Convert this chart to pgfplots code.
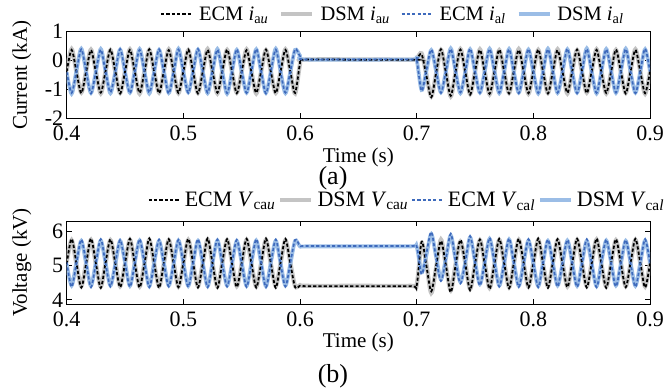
\documentclass[border=0pt]{standalone}
\usepackage{fontspec}
\setmainfont{Liberation Serif}
\usepackage{pgfplots}
\usepackage{pgfplotstable}
\pgfplotsset{compat=1.18}

\definecolor{dsmgray}{RGB}{196,196,196}
\definecolor{dsmblue}{RGB}{155,189,230}
\definecolor{ecmblue}{RGB}{62,106,188}

% arm currents (kA): ECM / DSM, upper (u) and lower (l) arm
\pgfplotstableread{
t eu du el dl
0.4000 -0.38 -0.35 -0.39 -0.41
0.4042 0.37 0.40 -1.12 -1.15
0.4083 -0.37 -0.39 -0.38 -0.36
0.4125 -1.13 -1.11 0.39 0.41
0.4167 -0.38 -0.36 -0.37 -0.40
0.4208 0.36 0.38 -1.14 -1.12
0.4250 -0.39 -0.37 -0.38 -0.39
0.4292 -1.11 -1.14 0.38 0.40
0.4333 -0.37 -0.38 -0.39 -0.37
0.4375 0.38 0.36 -1.10 -1.13
0.4417 -0.38 -0.40 -0.37 -0.38
0.4458 -1.14 -1.12 0.40 0.38
0.4500 -0.39 -0.37 -0.38 -0.40
0.4542 0.37 0.39 -1.13 -1.11
0.4583 -0.37 -0.38 -0.39 -0.37
0.4625 -1.12 -1.15 0.37 0.40
0.4667 -0.38 -0.36 -0.38 -0.39
0.4708 0.39 0.37 -1.11 -1.14
0.4750 -0.38 -0.39 -0.37 -0.38
0.4792 -1.13 -1.11 0.39 0.37
0.4833 -0.37 -0.38 -0.39 -0.37
0.4875 0.36 0.39 -1.14 -1.12
0.4917 -0.39 -0.37 -0.38 -0.40
0.4958 -1.12 -1.13 0.38 0.41
0.5000 -0.38 -0.37 -0.37 -0.38
0.5042 0.38 0.36 -1.12 -1.10
0.5083 -0.37 -0.39 -0.39 -0.37
0.5125 -1.14 -1.12 0.40 0.38
0.5167 -0.38 -0.37 -0.38 -0.39
0.5208 0.37 0.40 -1.11 -1.13
0.5250 -0.38 -0.38 -0.37 -0.38
0.5292 -1.11 -1.14 0.38 0.40
0.5333 -0.39 -0.37 -0.38 -0.37
0.5375 0.38 0.37 -1.13 -1.15
0.5417 -0.37 -0.39 -0.39 -0.38
0.5458 -1.13 -1.11 0.39 0.37
0.5500 -0.38 -0.38 -0.37 -0.39
0.5542 0.36 0.39 -1.12 -1.11
0.5583 -0.38 -0.37 -0.38 -0.37
0.5625 -1.12 -1.14 0.40 0.39
0.5667 -0.37 -0.38 -0.38 -0.40
0.5708 0.38 0.36 -1.14 -1.12
0.5750 -0.39 -0.38 -0.37 -0.38
0.5792 -1.13 -1.12 0.38 0.41
0.5833 -0.38 -0.39 -0.39 -0.37
0.5875 0.37 0.39 -1.11 -1.13
0.5917 -0.38 -0.37 -0.38 -0.39
0.5958 -1.12 -1.14 0.39 0.37
0.6000 -0.10 -0.12 0.15 0.17
0.6030 0.03 0.03 0.04 0.04
0.6500 0.03 0.04 0.04 0.03
0.6970 0.03 0.03 0.04 0.04
0.7000 0.05 0.06 0.02 0.03
0.7042 0.22 0.25 -1.05 -1.02
0.7083 -0.52 -0.48 -0.33 -0.36
0.7125 -1.27 -1.24 0.38 0.36
0.7167 -0.42 -0.44 -0.36 -0.38
0.7208 0.39 0.37 -1.12 -1.10
0.7250 -0.40 -0.38 -0.37 -0.39
0.7292 -1.22 -1.24 0.40 0.42
0.7333 -0.39 -0.41 -0.38 -0.37
0.7375 0.38 0.40 -1.10 -1.13
0.7417 -0.40 -0.38 -0.37 -0.38
0.7458 -1.18 -1.16 0.41 0.39
0.7500 -0.38 -0.39 -0.38 -0.39
0.7542 0.37 0.39 -1.12 -1.11
0.7583 -0.39 -0.37 -0.37 -0.38
0.7625 -1.15 -1.17 0.40 0.41
0.7667 -0.38 -0.38 -0.39 -0.37
0.7708 0.38 0.36 -1.11 -1.13
0.7750 -0.38 -0.39 -0.37 -0.38
0.7792 -1.14 -1.12 0.39 0.40
0.7833 -0.37 -0.38 -0.38 -0.39
0.7875 0.37 0.40 -1.13 -1.11
0.7917 -0.39 -0.37 -0.38 -0.37
0.7958 -1.13 -1.15 0.40 0.38
0.8000 -0.38 -0.38 -0.37 -0.39
0.8042 0.38 0.37 -1.12 -1.14
0.8083 -0.37 -0.39 -0.39 -0.38
0.8125 -1.14 -1.12 0.39 0.41
0.8167 -0.38 -0.37 -0.38 -0.37
0.8208 0.36 0.39 -1.11 -1.12
0.8250 -0.39 -0.38 -0.37 -0.39
0.8292 -1.12 -1.14 0.41 0.39
0.8333 -0.38 -0.37 -0.38 -0.38
0.8375 0.38 0.36 -1.13 -1.11
0.8417 -0.37 -0.39 -0.38 -0.37
0.8458 -1.13 -1.11 0.40 0.42
0.8500 -0.38 -0.38 -0.39 -0.38
0.8542 0.37 0.39 -1.12 -1.14
0.8583 -0.39 -0.37 -0.37 -0.38
0.8625 -1.12 -1.14 0.39 0.40
0.8667 -0.38 -0.38 -0.38 -0.37
0.8708 0.38 0.37 -1.11 -1.12
0.8750 -0.37 -0.39 -0.39 -0.38
0.8792 -1.14 -1.12 0.40 0.41
0.8833 -0.38 -0.37 -0.38 -0.39
0.8875 0.37 0.39 -1.13 -1.11
0.8917 -0.38 -0.38 -0.37 -0.38
0.8958 -1.13 -1.15 0.41 0.39
0.9000 -0.38 -0.37 -0.38 -0.37
}\currentdata

% submodule capacitor voltages (kV): ECM / DSM, upper (u) and lower (l) arm
\pgfplotstableread{
t eu du el dl
0.4000 5.05 5.10 5.10 5.05
0.4042 5.78 5.74 4.38 4.42
0.4083 5.08 5.05 5.06 5.09
0.4125 4.36 4.40 5.76 5.72
0.4167 5.06 5.09 5.08 5.05
0.4208 5.79 5.75 4.37 4.41
0.4250 5.07 5.05 5.07 5.09
0.4292 4.35 4.39 5.77 5.73
0.4333 5.08 5.06 5.06 5.08
0.4375 5.77 5.74 4.39 4.42
0.4417 5.06 5.09 5.08 5.05
0.4458 4.37 4.40 5.75 5.72
0.4500 5.07 5.05 5.07 5.09
0.4542 5.78 5.75 4.38 4.41
0.4583 5.08 5.06 5.06 5.08
0.4625 4.36 4.39 5.77 5.73
0.4667 5.06 5.08 5.08 5.06
0.4708 5.79 5.75 4.37 4.40
0.4750 5.07 5.05 5.07 5.09
0.4792 4.35 4.40 5.76 5.72
0.4833 5.08 5.06 5.06 5.08
0.4875 5.77 5.74 4.39 4.42
0.4917 5.06 5.09 5.08 5.05
0.4958 4.37 4.39 5.75 5.73
0.5000 5.07 5.05 5.07 5.09
0.5042 5.78 5.75 4.38 4.41
0.5083 5.08 5.06 5.06 5.08
0.5125 4.36 4.40 5.77 5.72
0.5167 5.06 5.08 5.08 5.06
0.5208 5.79 5.76 4.37 4.40
0.5250 5.07 5.05 5.07 5.09
0.5292 4.35 4.39 5.76 5.73
0.5333 5.08 5.06 5.06 5.08
0.5375 5.77 5.74 4.39 4.42
0.5417 5.06 5.09 5.08 5.05
0.5458 4.37 4.40 5.75 5.72
0.5500 5.07 5.05 5.07 5.09
0.5542 5.78 5.75 4.38 4.41
0.5583 5.08 5.06 5.06 5.08
0.5625 4.36 4.39 5.77 5.73
0.5667 5.06 5.08 5.08 5.06
0.5708 5.79 5.75 4.37 4.40
0.5750 5.07 5.05 5.07 5.09
0.5792 4.35 4.40 5.76 5.72
0.5833 5.08 5.06 5.06 5.08
0.5875 5.78 5.74 4.39 4.42
0.5917 5.06 5.09 5.08 5.05
0.5958 4.37 4.40 5.75 5.72
0.6000 4.41 4.43 5.58 5.56
0.6050 4.40 4.41 5.57 5.56
0.6500 4.40 4.41 5.57 5.56
0.6950 4.40 4.41 5.57 5.56
0.7000 4.42 4.44 5.56 5.55
0.7042 5.70 5.64 4.75 4.80
0.7083 5.00 5.05 5.35 5.30
0.7125 4.25 4.20 5.98 5.92
0.7167 5.00 4.95 5.20 5.25
0.7208 5.72 5.76 4.55 4.60
0.7250 5.02 5.00 5.18 5.20
0.7292 4.22 4.28 5.93 5.88
0.7333 5.00 5.03 5.14 5.17
0.7375 5.75 5.70 4.48 4.52
0.7417 5.05 5.07 5.12 5.10
0.7458 4.28 4.32 5.86 5.82
0.7500 5.05 5.03 5.10 5.12
0.7542 5.76 5.74 4.42 4.46
0.7583 5.06 5.08 5.09 5.08
0.7625 4.32 4.35 5.81 5.78
0.7667 5.07 5.05 5.08 5.10
0.7708 5.78 5.75 4.39 4.42
0.7750 5.07 5.09 5.08 5.06
0.7792 4.34 4.37 5.79 5.76
0.7833 5.07 5.05 5.07 5.09
0.7875 5.78 5.75 4.38 4.41
0.7917 5.08 5.06 5.06 5.08
0.7958 4.36 4.39 5.77 5.73
0.8000 5.06 5.08 5.08 5.06
0.8042 5.79 5.75 4.37 4.40
0.8083 5.07 5.05 5.07 5.09
0.8125 4.35 4.40 5.76 5.72
0.8167 5.08 5.06 5.06 5.08
0.8208 5.77 5.74 4.39 4.42
0.8250 5.06 5.09 5.08 5.05
0.8292 4.37 4.39 5.75 5.73
0.8333 5.07 5.05 5.07 5.09
0.8375 5.78 5.75 4.38 4.41
0.8417 5.08 5.06 5.06 5.08
0.8458 4.36 4.40 5.77 5.72
0.8500 5.06 5.08 5.08 5.06
0.8542 5.79 5.76 4.37 4.40
0.8583 5.07 5.05 5.07 5.09
0.8625 4.35 4.39 5.76 5.73
0.8667 5.08 5.06 5.06 5.08
0.8708 5.77 5.74 4.39 4.42
0.8750 5.06 5.09 5.08 5.05
0.8792 4.37 4.40 5.75 5.72
0.8833 5.07 5.05 5.07 5.09
0.8875 5.78 5.75 4.38 4.41
0.8917 5.08 5.06 5.06 5.08
0.8958 4.36 4.39 5.77 5.73
0.9000 5.06 5.08 5.08 5.06
}\voltagedata

\pgfplotsset{
  ecmu/.style={black, line width=1.8pt, dash pattern=on 3.2pt off 2.1pt},
  dsmu/.style={dsmgray, line width=4.2pt},
  ecml/.style={ecmblue, line width=1.7pt, dash pattern=on 3.2pt off 2.1pt},
  dsml/.style={dsmblue, line width=3.8pt},
  panel/.style={
    scale only axis, width=583.3pt,
    xmin=0.4, xmax=0.9, xtick={0.4,0.5,0.6,0.7,0.8,0.9},
    clip mode=individual,
    tick align=inside, major tick length=5pt,
    axis line style={line width=1pt},
    every tick/.style={black, line width=0.8pt},
    /pgf/number format/assume math mode=true,
    ticklabel style={font=\fontsize{22}{26}\selectfont},
    xticklabel style={yshift=-4pt},
    label style={font=\fontsize{21}{25}\selectfont},
    legend columns=4,
    legend image code/.code={\draw[##1] (0pt,0pt) -- (31pt,0pt);},
    legend style={draw=none, fill=none, inner sep=0pt, nodes={inner sep=0pt},
      /tikz/every odd column/.append style={column sep=6pt},
      /tikz/every even column/.append style={column sep=11pt}},
  },
}

\begin{document}
\begin{tikzpicture}
\path[use as bounding box] (0pt,0pt) rectangle (672pt,-391pt);

% (a) arm currents
\begin{axis}[panel,
  at={(66.7pt,-118.3pt)}, anchor=south west, height=86.6pt,
  ymin=-2, ymax=1, ytick={-2,-1,0,1},
  xlabel={Time (s)}, ylabel={Current (kA)},
  xlabel style={at={(axis description cs:0.5,-0.447)}, anchor=center},
  ylabel style={at={(axis description cs:-0.077,0.5)}, anchor=center},
  legend style={at={(axis description cs:0.16,1.204)}, anchor=west,
    font=\fontsize{20.5}{24}\selectfont}]
\addlegendimage{ecmu}
\addlegendentry{ECM \textit{i}\textsubscript{a\textit{u}}}
\addlegendimage{dsmu}
\addlegendentry{DSM \textit{i}\textsubscript{a\textit{u}}}
\addlegendimage{ecml}
\addlegendentry{ECM \textit{i}\textsubscript{a\textit{l}}}
\addlegendimage{dsml}
\addlegendentry{DSM \textit{i}\textsubscript{a\textit{l}}}
\addplot[dsmu, smooth, forget plot] table[x=t, y=du] {\currentdata};
\addplot[dsml, smooth, forget plot] table[x=t, y=dl] {\currentdata};
\addplot[ecmu, smooth, forget plot] table[x=t, y=eu] {\currentdata};
\addplot[ecml, smooth, forget plot] table[x=t, y=el] {\currentdata};
\node[font=\fontsize{26}{30}\selectfont] at (axis description cs:0.4565,-0.689) {(a)};
\end{axis}

% (b) capacitor voltages
\begin{axis}[panel,
  at={(66.7pt,-304pt)}, anchor=south west, height=83pt,
  ymin=3.88, ymax=6.3, ytick={4,5,6},
  xlabel={Time (s)}, ylabel={Voltage (kV)},
  xlabel style={at={(axis description cs:0.5,-0.458)}, anchor=center},
  ylabel style={at={(axis description cs:-0.077,0.5)}, anchor=center},
  legend style={at={(axis description cs:0.139,1.25)}, anchor=west,
    font=\fontsize{22}{26}\selectfont,
    /tikz/every odd column/.append style={column sep=4pt},
    /tikz/every even column/.append style={column sep=3pt}}]
\addlegendimage{ecmu}
\addlegendentry{ECM \textit{V}\textsubscript{ca\textit{u}}}
\addlegendimage{dsmu}
\addlegendentry{DSM \textit{V}\textsubscript{ca\textit{u}}}
\addlegendimage{ecml}
\addlegendentry{ECM \textit{V}\textsubscript{ca\textit{l}}}
\addlegendimage{dsml}
\addlegendentry{DSM \textit{V}\textsubscript{ca\textit{l}}}
\addplot[dsmu, smooth, forget plot] table[x=t, y=du] {\voltagedata};
\addplot[dsml, smooth, forget plot] table[x=t, y=dl] {\voltagedata};
\addplot[ecmu, smooth, forget plot] table[x=t, y=eu] {\voltagedata};
\addplot[ecml, smooth, forget plot] table[x=t, y=el] {\voltagedata};
\node[font=\fontsize{26}{30}\selectfont] at (axis description cs:0.4565,-0.867) {(b)};
\end{axis}
\end{tikzpicture}
\end{document}
